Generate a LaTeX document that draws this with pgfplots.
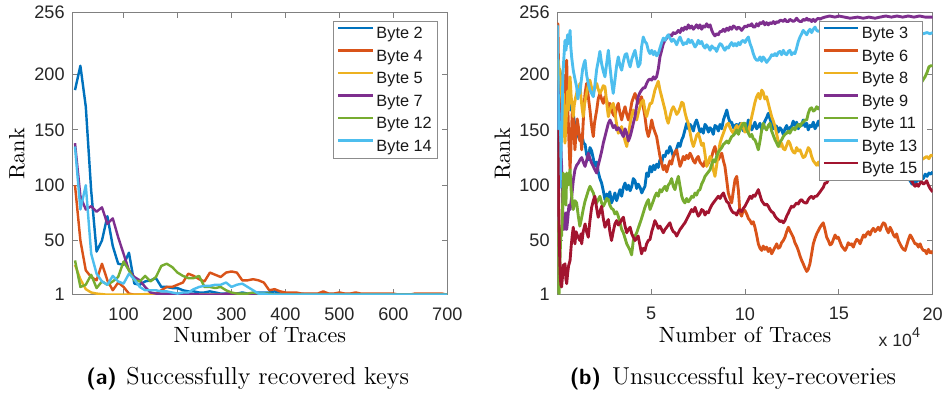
\documentclass[border=0pt]{standalone}
\usepackage{fontspec}
\usepackage{pgfplots}
\pgfplotsset{compat=1.18}
\newfontfamily\arial{Liberation Sans}
\definecolor{c1}{rgb}{0,0.447,0.741}
\definecolor{c2}{rgb}{0.850,0.325,0.098}
\definecolor{c3}{rgb}{0.929,0.694,0.125}
\definecolor{c4}{rgb}{0.494,0.184,0.556}
\definecolor{c5}{rgb}{0.466,0.674,0.188}
\definecolor{c6}{rgb}{0.301,0.745,0.933}
\definecolor{c7}{rgb}{0.635,0.078,0.184}
\pgfplotsset{myax/.style={
  scale only axis, height=127.86pt,
  anchor=south west,
  axis line style={black!50, line width=0.45pt},
  tick style={black!50, line width=0.45pt},
  major tick length=2.6pt,
  tick align=inside, tick pos=both,
  ymin=1, ymax=256, ytick={1,50,100,150,200,256},
  tick label style={font=\arial\fontsize{8.2}{9}\selectfont, text=black!85},
  /pgf/number format/assume math mode=true,
  yticklabel style={inner sep=0pt, xshift=-3.3pt},
  xticklabel style={inner sep=0pt, yshift=-5.6pt},
  label style={font=\fontsize{9.1}{11}\selectfont, text=black!68},
  every axis x label/.style={at={(axis description cs:0.5,-0.1712)}, anchor=base},
  ylabel={Rank}, xlabel={Number of Traces},
  legend style={at={(axis description cs:1,1)}, anchor=north east, xshift=-4.2pt, yshift=-3.9pt,
    draw=black!45, line width=0.45pt, fill=white,
    font=\arial\fontsize{7.4}{8}\selectfont,
    inner xsep=1.5pt, inner ysep=0.3pt, row sep=0pt, column sep=0pt,
    nodes={inner sep=1.1pt, text height=6.2pt, text depth=1.8pt, text=black!90}},
  legend cell align=left,
  legend image code/.code={\draw[#1, line width=1.1pt] (0pt,2.6pt) -- (15.6pt,2.6pt);},
  every axis plot/.append style={line width=1.1pt, mark=none, line join=round},
  scaled x ticks=false,
}}
\begin{document}
\begin{tikzpicture}
\useasboundingbox (0,0) rectangle (428pt,179.54pt);
\begin{axis}[myax, at={(32.78pt,45.93pt)}, width=170.02pt,
  xmin=5, xmax=700, xtick={100,200,300,400,500,600,700},
  every axis y label/.style={at={(axis description cs:-0.1276,0.5)}, rotate=90, anchor=base}]
\addplot[c1] coordinates {(10,186)(20,208)(30,171)(40,95)(50,40)(60,50)(70,72)(80,45)(90,29)(100,28)(110,39)(120,11)(130,10)(140,13)(150,14)(160,16)(170,8)(180,8)(190,7)(200,7)(210,5)(220,4)(230,4)(240,3)(250,3)(260,4)(270,3)(280,2)(290,2)(300,2)(310,2)(320,3)(330,2)(340,2)(350,3)(360,3)(370,3)(380,4)(390,2)(400,2)(420,2)(440,1.5)(460,1.5)(480,1.5)(500,1.5)(520,1.5)(540,1.2)(560,1.2)(580,1.2)(600,1)(620,1)(640,1)(660,1)(680,1)(700,1)};
\addplot[c2] coordinates {(10,100)(20,50)(30,23)(40,17)(50,14)(60,29)(70,14)(80,5)(90,12)(100,8)(110,2)(120,1)(130,1)(140,1)(150,2)(160,2)(170,5)(180,8)(190,8)(200,10)(210,12)(220,20)(230,18)(240,15)(250,13)(260,21)(270,19)(280,17)(290,21)(300,22)(310,21)(320,14)(330,14)(340,15)(350,14)(360,12)(370,5)(380,6)(390,4)(400,3)(410,3)(420,3)(430,2)(440,2)(450,2)(460,2)(470,4)(480,2)(490,2)(500,3)(510,2)(520,2)(530,3)(540,2)(550,2)(560,2)(570,2)(580,2)(590,2)(600,2)(610,1)(620,1)(630,1)(640,2)(650,2)(660,2)(670,2)(680,2)(690,2)(700,1)};
\addplot[c3] coordinates {(10,28)(20,15)(30,6)(40,3)(50,2)(60,1.5)(70,1)(80,1)(100,1)(120,1)(140,1.5)(160,1.5)(180,1.5)(200,1)(250,1)(300,1)(350,1)(400,1)(450,1)(500,1)(550,1)(600,1)(650,1)(700,1)};
\addplot[c4] coordinates {(10,138)(20,90)(30,78)(40,81)(50,76)(60,80)(70,65)(80,70)(90,53)(100,38)(110,23)(120,17)(130,14)(140,8)(150,3)(160,2)(170,2)(180,2)(190,2)(200,2)(210,1.5)(220,1.5)(240,1.2)(260,1)(280,1)(290,2)(300,2)(310,2)(320,1)(340,1)(360,1)(400,1)(450,1)(500,1)(550,1)(600,1)(650,1)(700,1)};
\addplot[c5] coordinates {(10,32)(20,8)(30,10)(40,19)(50,7)(60,13)(70,10)(80,13)(90,17)(100,31)(110,23)(120,14)(130,13)(140,18)(150,13)(160,17)(170,27)(180,29)(190,26)(200,21)(210,18)(220,16)(230,16)(240,18)(250,8)(260,8)(270,7)(280,8)(290,5)(300,3)(310,2)(320,2)(330,2)(340,3)(350,2)(360,2)(370,2)(380,1)(400,1)(450,1)(500,1)(550,1)(600,1)(650,1)(700,1)};
\addplot[c6] coordinates {(10,135)(20,78)(30,100)(40,38)(50,20)(60,13)(70,10)(80,18)(90,13)(100,11)(110,20)(120,15)(130,8)(140,5)(150,5)(160,5)(170,4)(180,4)(190,3)(200,2)(210,3)(220,3)(230,6)(240,8)(250,9)(260,9)(270,10)(280,10)(290,12)(300,8)(310,10)(320,11)(330,8)(340,5)(350,2)(360,2)(370,1)(400,1)(450,1)(500,1)(550,1)(600,1)(650,1)(700,1)};
\legend{Byte 2,Byte 4,Byte 5,Byte 7,Byte 12,Byte 14}
\end{axis}
\begin{axis}[myax, at={(252.67pt,45.93pt)}, width=170.2pt,
  xmin=0, xmax=20, xtick={5,10,15,20},
  every axis plot/.append style={line width=1.3pt},
  every axis y label/.style={at={(axis description cs:-0.126,0.5)}, rotate=90, anchor=base}]
\addplot[c1] coordinates {(0,130)(0.05,175)(0.12,205)(0.2,198)(0.3,188)(0.4,195)(0.5,178)(0.6,182)(0.7,168)(0.8,172)(0.9,158)(1.0,152)(1.1,145)(1.2,141)(1.3,146)(1.4,138)(1.48,137)(1.56,128)(1.65,123)(1.74,134)(1.83,131)(1.92,124)(2.0,117)(2.1,121)(2.18,112)(2.27,106)(2.36,102)(2.45,95)(2.54,87)(2.63,92)(2.72,89)(2.8,94)(2.89,84)(2.98,88)(3.07,93)(3.16,86)(3.25,91)(3.34,96)(3.43,90)(3.52,98)(3.61,102)(3.7,96)(3.79,100)(3.88,95)(3.97,99)(4.05,106)(4.14,104)(4.23,97)(4.31,101)(4.41,98)(4.5,93)(4.58,96)(4.67,99)(4.76,111)(4.85,108)(4.94,117)(5.03,112)(5.12,118)(5.2,114)(5.29,119)(5.38,116)(5.47,123)(5.56,120)(5.65,127)(5.74,126)(5.83,131)(5.91,129)(6.0,135)(6.09,131)(6.18,126)(6.27,129)(6.36,133)(6.45,138)(6.54,135)(6.63,141)(6.71,144)(6.8,150)(6.89,156)(6.98,151)(7.07,155)(7.16,153)(7.25,149)(7.34,156)(7.42,159)(7.51,154)(7.6,148)(7.69,151)(7.78,147)(7.87,155)(7.96,153)(8.05,148)(8.14,152)(8.23,150)(8.31,146)(8.4,154)(8.49,153)(8.58,149)(8.67,155)(8.76,151)(8.85,159)(8.93,163)(9.03,168)(9.12,161)(9.2,157)(9.29,157)(9.38,152)(9.47,154)(9.56,155)(9.65,150)(9.73,156)(9.82,153)(9.91,149)(10.0,155)(10.09,152)(10.18,159)(10.27,155)(10.36,150)(10.44,153)(10.53,157)(10.62,151)(10.71,153)(10.8,156)(10.89,150)(10.97,154)(11.06,158)(11.15,161)(11.24,165)(11.33,160)(11.42,156)(11.51,151)(11.6,154)(11.69,153)(11.77,148)(11.86,152)(11.95,150)(12.04,146)(12.13,151)(12.22,154)(12.31,149)(12.39,152)(12.48,153)(12.57,158)(12.66,154)(12.75,157)(12.84,151)(12.93,155)(13.02,154)(13.1,159)(13.2,153)(13.29,156)(13.37,150)(13.46,154)(13.55,153)(13.64,157)(13.73,151)(13.82,154)(13.91,158)(14.0,153)(14.08,156)(14.5,150)(15,147)(15.5,142)(16,138)(16.5,132)(17,125)(17.5,120)(18,115)(18.5,109)(18.8,104)(18.9,101)(19.0,104)(19.1,102)(19.2,106)(19.3,104)(19.4,108)(19.5,106)(19.6,110)(19.7,108)(19.8,111)(19.9,110)(20,112)};
\addplot[c2] coordinates {(0,210)(0.03,246)(0.08,190)(0.12,140)(0.18,135)(0.25,175)(0.3,200)(0.38,165)(0.45,190)(0.5,213)(0.56,170)(0.62,140)(0.68,114)(0.74,140)(0.8,168)(0.85,160)(0.9,145)(0.94,132)(1.0,148)(1.06,160)(1.12,153)(1.2,140)(1.25,145)(1.3,132)(1.36,150)(1.42,170)(1.48,183)(1.56,192)(1.62,185)(1.68,176)(1.74,168)(1.8,158)(1.86,150)(1.92,144)(1.98,156)(2.04,162)(2.1,168)(2.18,178)(2.27,183)(2.36,178)(2.45,174)(2.54,180)(2.63,177)(2.72,170)(2.8,174)(2.89,168)(2.98,164)(3.07,162)(3.16,170)(3.25,174)(3.34,165)(3.43,159)(3.52,166)(3.61,171)(3.7,164)(3.79,159)(3.88,166)(3.97,175)(4.05,179)(4.14,183)(4.23,178)(4.31,174)(4.41,177)(4.49,180)(4.58,171)(4.67,162)(4.76,150)(4.85,144)(4.94,150)(5.03,159)(5.12,152)(5.2,148)(5.29,144)(5.38,135)(5.47,126)(5.56,120)(5.65,114)(5.74,118)(5.83,112)(5.91,117)(6.0,122)(6.09,119)(6.18,126)(6.27,130)(6.36,132)(6.45,124)(6.54,117)(6.63,121)(6.71,126)(6.8,123)(6.89,127)(6.98,124)(7.07,129)(7.16,126)(7.25,122)(7.34,120)(7.42,124)(7.51,126)(7.6,121)(7.69,119)(7.78,117)(7.87,122)(7.96,118)(8.05,120)(8.14,124)(8.23,126)(8.31,131)(8.4,135)(8.49,128)(8.58,123)(8.67,126)(8.76,129)(8.85,122)(8.93,117)(9.03,104)(9.11,93)(9.2,88)(9.29,84)(9.38,95)(9.47,105)(9.56,108)(9.65,95)(9.73,75)(9.82,72)(9.91,78)(10.0,77)(10.09,74)(10.18,70)(10.27,68)(10.36,65)(10.44,67)(10.53,62)(10.62,55)(10.71,47)(10.8,43)(10.89,41)(10.97,45)(11.06,42)(11.15,44)(11.24,40)(11.33,43)(11.42,38)(11.51,41)(11.6,44)(11.69,47)(11.77,43)(11.86,44)(11.95,48)(12.04,50)(12.13,53)(12.22,58)(12.31,62)(12.39,59)(12.48,56)(12.57,53)(12.66,48)(12.75,45)(12.84,41)(12.93,36)(13.02,32)(13.1,29)(13.2,25)(13.29,22)(13.37,24)(13.46,29)(13.55,38)(13.64,47)(13.73,52)(13.82,56)(13.91,59)(14.0,62)(14.08,64)(14.17,66)(14.26,60)(14.35,53)(14.44,50)(14.53,46)(14.62,47)(14.71,51)(14.8,55)(14.88,52)(14.97,53)(15.06,49)(15.15,45)(15.24,43)(15.33,41)(15.42,44)(15.5,48)(15.59,46)(15.68,47)(15.77,44)(15.86,48)(15.95,51)(16.04,50)(16.13,47)(16.22,51)(16.31,55)(16.39,53)(16.48,56)(16.57,58)(16.66,55)(16.75,59)(16.84,61)(16.93,58)(17.02,60)(17.1,62)(17.19,59)(17.28,63)(17.37,66)(17.46,65)(17.55,60)(17.64,57)(17.73,62)(17.82,59)(17.91,55)(18.0,53)(18.08,56)(18.17,50)(18.26,47)(18.35,44)(18.44,42)(18.53,41)(18.62,46)(18.71,51)(18.8,55)(18.88,53)(18.97,50)(19.06,47)(19.15,47)(19.24,44)(19.33,47)(19.42,43)(19.5,41)(19.59,41)(19.68,38)(19.77,42)(19.86,39)(19.95,40)(20,38)};
\addplot[c3] coordinates {(0,195)(0.05,213)(0.1,205)(0.14,204)(0.2,190)(0.26,175)(0.32,183)(0.37,150)(0.41,138)(0.46,155)(0.5,168)(0.55,185)(0.59,168)(0.64,190)(0.68,198)(0.74,180)(0.8,170)(0.85,162)(0.9,172)(0.96,178)(1.03,183)(1.1,188)(1.15,185)(1.2,192)(1.26,180)(1.32,170)(1.38,162)(1.44,172)(1.5,178)(1.56,183)(1.62,188)(1.68,192)(1.74,195)(1.8,190)(1.86,186)(1.92,183)(1.98,187)(2.04,190)(2.1,192)(2.16,188)(2.22,185)(2.27,183)(2.36,186)(2.45,190)(2.54,189)(2.6,180)(2.66,170)(2.72,162)(2.8,168)(2.89,172)(2.98,174)(3.07,166)(3.16,155)(3.25,147)(3.34,150)(3.43,153)(3.52,146)(3.61,140)(3.7,135)(3.79,145)(3.88,156)(3.97,163)(4.05,168)(4.14,164)(4.23,159)(4.31,165)(4.41,171)(4.49,175)(4.58,177)(4.67,168)(4.76,162)(4.85,168)(4.94,174)(5.03,174)(5.12,180)(5.2,186)(5.29,190)(5.38,194)(5.47,186)(5.56,180)(5.65,174)(5.74,168)(5.83,160)(5.91,156)(6.0,162)(6.09,168)(6.18,171)(6.27,168)(6.36,164)(6.45,166)(6.54,170)(6.63,175)(6.71,174)(6.8,166)(6.89,160)(6.98,156)(7.07,148)(7.16,140)(7.25,135)(7.34,140)(7.42,145)(7.51,147)(7.6,142)(7.69,136)(7.78,138)(7.87,128)(7.96,117)(8.05,121)(8.14,126)(8.23,123)(8.31,114)(8.4,108)(8.49,118)(8.58,129)(8.67,138)(8.76,143)(8.85,147)(8.93,151)(9.03,155)(9.12,156)(9.2,152)(9.29,149)(9.38,147)(9.47,151)(9.56,154)(9.65,150)(9.73,153)(9.82,156)(9.91,152)(10.0,148)(10.09,151)(10.18,147)(10.27,155)(10.36,162)(10.44,168)(10.53,175)(10.62,180)(10.71,183)(10.8,178)(10.89,186)(10.97,184)(11.06,178)(11.15,180)(11.24,174)(11.33,168)(11.42,162)(11.51,158)(11.6,153)(11.69,146)(11.77,140)(11.86,135)(11.95,138)(12.04,133)(12.13,132)(12.22,136)(12.31,140)(12.39,138)(12.48,133)(12.57,130)(12.66,129)(12.75,134)(12.84,131)(12.93,132)(13.02,128)(13.1,125)(13.2,126)(13.29,130)(13.37,134)(13.46,132)(13.55,126)(13.64,122)(13.73,120)(13.82,118)(13.91,121)(14.0,117)(14.08,120)(14.5,122)(15,125)(15.5,121)(16,118)(16.5,123)(17,127)(17.5,122)(18,118)(18.5,121)(19,119)(19.3,122)(19.5,124)(19.68,126)(19.8,124)(19.9,127)(20,127)};
\addplot[c4] coordinates {(0,150)(0.05,185)(0.12,160)(0.18,140)(0.23,117)(0.28,85)(0.32,60)(0.36,72)(0.41,60)(0.46,75)(0.5,60)(0.56,70)(0.62,82)(0.68,78)(0.77,90)(0.85,104)(0.94,114)(1.03,118)(1.12,120)(1.21,123)(1.3,125)(1.38,121)(1.48,117)(1.56,122)(1.65,129)(1.74,124)(1.83,120)(1.92,117)(2.0,114)(2.1,111)(2.18,118)(2.27,124)(2.38,132)(2.45,138)(2.54,144)(2.63,150)(2.72,156)(2.81,159)(2.89,156)(2.98,152)(3.07,154)(3.16,150)(3.25,152)(3.34,150)(3.43,147)(3.52,144)(3.61,151)(3.7,147)(3.79,140)(3.88,144)(3.97,150)(4.05,156)(4.14,162)(4.23,172)(4.31,180)(4.41,184)(4.49,186)(4.58,188)(4.67,188)(4.76,192)(4.85,195)(4.94,196)(5.03,195)(5.12,198)(5.2,196)(5.29,198)(5.38,205)(5.47,216)(5.56,222)(5.65,228)(5.74,231)(5.83,233)(5.91,235)(6.0,236)(6.09,235)(6.18,238)(6.27,237)(6.36,238)(6.45,240)(6.54,238)(6.63,242)(6.71,240)(6.8,243)(6.89,241)(6.98,245)(7.07,242)(7.16,244)(7.25,241)(7.34,243)(7.42,245)(7.51,242)(7.6,245)(7.69,241)(7.78,244)(7.87,243)(7.96,246)(8.05,243)(8.14,245)(8.23,240)(8.31,237)(8.4,235)(8.49,237)(8.58,236)(8.67,239)(8.76,239)(8.85,241)(8.93,239)(9.03,242)(9.12,240)(9.2,243)(9.29,241)(9.38,244)(9.47,243)(9.56,241)(9.65,243)(9.73,242)(9.82,240)(9.91,242)(10.0,244)(10.09,243)(10.18,245)(10.27,244)(10.36,246)(10.44,243)(10.53,243)(10.62,246)(10.71,244)(10.8,247)(10.89,246)(10.97,248)(11.06,245)(11.15,247)(11.24,245)(11.33,247)(11.42,246)(11.51,248)(11.6,246)(11.69,248)(11.77,247)(11.86,249)(11.95,249)(12.04,248)(12.13,250)(12.22,248)(12.31,248)(12.39,250)(12.48,249)(12.57,248)(12.66,249)(12.75,251)(12.84,249)(12.93,248)(13.02,248)(13.1,250)(13.2,249)(13.29,251)(13.37,249)(13.46,250)(13.55,248)(13.64,250)(13.73,248)(13.82,250)(13.91,251)(14.0,250)(14.08,251)(14.26,252)(14.5,253)(14.8,252)(15.0,253)(15.3,252)(15.6,251)(16.0,252)(16.3,251)(16.6,252)(16.93,251)(17.2,252)(17.5,253)(17.8,252)(18.1,253)(18.4,252)(18.7,253)(19.0,252)(19.3,253)(19.6,252)(20,252)};
\addplot[c5] coordinates {(0,68)(0.03,20)(0.05,5)(0.1,2)(0.14,30)(0.19,60)(0.23,54)(0.28,78)(0.32,111)(0.36,95)(0.41,102)(0.46,82)(0.5,111)(0.56,100)(0.62,108)(0.68,114)(0.74,95)(0.8,85)(0.85,78)(0.94,86)(1.03,84)(1.12,72)(1.2,63)(1.29,70)(1.38,78)(1.47,85)(1.56,90)(1.65,95)(1.74,99)(1.83,96)(1.92,93)(2.0,88)(2.1,84)(2.18,87)(2.27,90)(2.36,84)(2.45,81)(2.54,84)(2.63,88)(2.72,87)(2.8,82)(2.89,79)(2.98,78)(3.07,74)(3.16,76)(3.25,72)(3.34,66)(3.43,60)(3.52,57)(3.61,52)(3.7,47)(3.79,44)(3.88,41)(3.96,37)(4.05,50)(4.14,54)(4.23,57)(4.31,61)(4.41,66)(4.49,70)(4.58,75)(4.67,80)(4.76,84)(4.85,87)(4.94,78)(5.03,82)(5.12,86)(5.2,90)(5.29,93)(5.38,90)(5.47,96)(5.56,94)(5.65,97)(5.74,99)(5.83,95)(5.91,100)(6.0,102)(6.09,106)(6.18,99)(6.27,96)(6.36,103)(6.45,108)(6.54,99)(6.63,90)(6.71,86)(6.8,84)(6.89,88)(6.98,85)(7.07,87)(7.16,90)(7.25,89)(7.34,93)(7.42,91)(7.51,95)(7.6,96)(7.69,101)(7.78,104)(7.87,108)(7.96,110)(8.05,112)(8.14,114)(8.23,119)(8.31,123)(8.4,121)(8.49,126)(8.58,130)(8.67,132)(8.76,134)(8.85,137)(8.93,138)(9.03,140)(9.12,138)(9.2,141)(9.29,144)(9.38,145)(9.47,147)(9.56,150)(9.65,146)(9.73,150)(9.82,153)(9.91,156)(10.0,156)(10.09,150)(10.18,147)(10.27,144)(10.36,146)(10.44,142)(10.53,141)(10.62,137)(10.71,132)(10.8,140)(10.89,150)(10.97,156)(11.06,152)(11.15,150)(11.24,154)(11.33,156)(11.42,149)(11.51,145)(11.6,141)(11.69,138)(11.77,135)(11.86,139)(11.95,141)(12.04,144)(12.13,146)(12.22,147)(12.31,149)(12.39,147)(12.48,150)(12.57,152)(12.66,150)(12.75,153)(12.84,155)(12.93,153)(13.02,156)(13.1,157)(13.2,159)(13.29,159)(13.37,165)(13.46,169)(13.55,170)(13.64,167)(13.73,168)(13.82,171)(13.91,169)(14.0,171)(14.08,172)(14.5,174)(15,176)(15.5,178)(16,180)(16.5,183)(17,185)(17.5,186)(18,188)(18.5,190)(19,192)(19.4,193)(19.59,198)(19.7,202)(19.8,207)(19.9,208)(20,208)};
\addplot[c6] coordinates {(0,245)(0.04,200)(0.08,150)(0.12,110)(0.15,98)(0.2,130)(0.25,160)(0.3,200)(0.35,215)(0.41,231)(0.46,222)(0.5,228)(0.55,236)(0.6,228)(0.64,233)(0.68,240)(0.72,225)(0.77,215)(0.85,204)(0.94,196)(1.03,189)(1.1,178)(1.15,186)(1.2,183)(1.28,195)(1.35,205)(1.42,210)(1.48,213)(1.56,200)(1.65,192)(1.74,186)(1.83,183)(1.92,180)(2.0,190)(2.1,205)(2.18,212)(2.27,221)(2.36,210)(2.45,203)(2.54,198)(2.63,210)(2.72,222)(2.8,208)(2.89,194)(2.98,183)(3.07,195)(3.16,208)(3.25,216)(3.34,208)(3.43,204)(3.52,212)(3.61,218)(3.7,219)(3.79,212)(3.88,207)(3.97,214)(4.05,218)(4.14,222)(4.23,214)(4.31,207)(4.41,210)(4.49,225)(4.58,234)(4.67,230)(4.76,228)(4.85,222)(4.94,219)(5.03,222)(5.12,218)(5.2,221)(5.29,217)(5.38,219)(5.47,224)(5.56,229)(5.65,233)(5.74,231)(5.83,234)(5.91,236)(6.0,233)(6.09,230)(6.18,232)(6.27,230)(6.36,227)(6.45,231)(6.54,234)(6.63,230)(6.71,227)(6.8,229)(6.89,228)(6.98,232)(7.07,229)(7.16,231)(7.25,228)(7.34,225)(7.42,227)(7.51,231)(7.6,228)(7.69,230)(7.78,226)(7.87,224)(7.96,227)(8.05,225)(8.14,222)(8.23,226)(8.31,224)(8.4,224)(8.49,221)(8.58,225)(8.67,228)(8.76,227)(8.85,224)(8.93,222)(9.03,225)(9.12,224)(9.2,227)(9.29,229)(9.38,226)(9.47,228)(9.56,226)(9.65,229)(9.73,227)(9.82,230)(9.91,231)(10.0,229)(10.09,232)(10.18,234)(10.27,228)(10.36,224)(10.44,219)(10.53,215)(10.62,213)(10.71,213)(10.8,216)(10.89,212)(10.97,216)(11.06,214)(11.15,211)(11.24,213)(11.33,215)(11.42,218)(11.51,217)(11.6,219)(11.69,217)(11.77,220)(11.86,221)(11.95,218)(12.04,222)(12.13,219)(12.22,218)(12.31,221)(12.39,222)(12.48,218)(12.57,220)(12.66,219)(12.75,224)(12.84,230)(12.93,234)(13.02,237)(13.1,240)(13.2,238)(13.29,236)(13.37,239)(13.46,241)(13.55,238)(13.64,241)(13.73,243)(13.82,240)(13.91,239)(14.0,240)(14.08,238)(14.5,236)(15,233)(15.5,235)(16,232)(16.5,234)(17,236)(17.5,233)(18,235)(18.5,237)(19,236)(19.5,237)(19.7,238)(19.85,237)(20,238)};
\addplot[c7] coordinates {(0,150)(0.03,138)(0.07,90)(0.11,47)(0.15,20)(0.19,10)(0.23,8)(0.28,18)(0.32,28)(0.36,22)(0.41,29)(0.46,15)(0.5,11)(0.55,20)(0.6,27)(0.68,32)(0.74,45)(0.8,55)(0.85,62)(0.9,52)(0.94,47)(1.0,58)(1.06,55)(1.12,53)(1.2,50)(1.26,56)(1.3,47)(1.38,58)(1.44,62)(1.48,65)(1.56,58)(1.65,53)(1.74,68)(1.83,80)(1.92,86)(2.0,90)(2.09,80)(2.18,71)(2.27,76)(2.36,81)(2.45,70)(2.54,62)(2.63,66)(2.72,69)(2.8,58)(2.89,50)(2.98,58)(3.07,65)(3.16,68)(3.25,64)(3.34,66)(3.43,69)(3.52,71)(3.61,63)(3.7,57)(3.79,60)(3.88,62)(3.97,56)(4.05,53)(4.14,50)(4.23,52)(4.31,54)(4.41,45)(4.49,38)(4.58,43)(4.67,41)(4.76,47)(4.85,50)(4.94,51)(5.03,58)(5.12,63)(5.2,68)(5.29,65)(5.38,61)(5.47,63)(5.56,60)(5.65,57)(5.74,60)(5.83,62)(5.91,64)(6.0,66)(6.09,61)(6.18,58)(6.27,57)(6.36,54)(6.45,57)(6.54,60)(6.63,62)(6.71,64)(6.8,66)(6.89,69)(6.98,72)(7.07,75)(7.16,78)(7.25,76)(7.34,80)(7.42,76)(7.51,72)(7.6,74)(7.69,78)(7.78,77)(7.87,73)(7.96,76)(8.05,75)(8.14,79)(8.23,82)(8.31,84)(8.4,86)(8.49,88)(8.58,90)(8.67,88)(8.76,91)(8.85,93)(8.93,89)(9.03,85)(9.12,84)(9.2,80)(9.29,77)(9.38,75)(9.47,75)(9.56,73)(9.65,77)(9.73,78)(9.82,76)(9.91,79)(10.0,81)(10.09,84)(10.18,87)(10.27,90)(10.36,88)(10.44,91)(10.53,90)(10.62,93)(10.71,96)(10.8,91)(10.89,86)(10.97,84)(11.06,82)(11.15,83)(11.24,81)(11.33,78)(11.42,76)(11.51,75)(11.6,72)(11.69,70)(11.77,69)(11.86,67)(11.95,68)(12.04,66)(12.13,68)(12.22,72)(12.31,75)(12.39,78)(12.48,81)(12.57,80)(12.66,82)(12.75,84)(12.84,83)(12.93,86)(13.02,87)(13.1,85)(13.2,84)(13.29,84)(13.37,87)(13.46,89)(13.55,90)(13.64,88)(13.73,90)(13.82,90)(13.91,92)(14.0,94)(14.08,96)(14.17,98)(14.26,102)(14.35,102)(14.44,105)(14.53,108)(15,112)(15.5,115)(16,118)(16.5,116)(17,119)(17.5,117)(18,113)(18.5,108)(18.8,105)(18.88,104)(18.97,101)(19.06,99)(19.15,101)(19.24,99)(19.33,102)(19.42,103)(19.5,101)(19.59,102)(19.68,104)(19.77,100)(19.86,97)(19.95,95)(20,94)};
\legend{Byte 3,Byte 6,Byte 8,Byte 9,Byte 11,Byte 13,Byte 15}
\end{axis}
\node[anchor=base west, inner sep=0pt, font=\arial\fontsize{8}{9}\selectfont, text=black!85] at (398.2pt,22.4pt) {x 10\raisebox{4.2pt}{\fontsize{6.5}{7}\selectfont 4}};
\node[anchor=base west, inner sep=0pt, font=\sffamily\bfseries\fontsize{10}{12}\selectfont] at (38.99pt,4.99pt) {(a)};
\node[anchor=base west, inner sep=0pt, font=\fontsize{11.09}{13}\selectfont] at (57.13pt,4.99pt) {Successfully recovered keys};
\node[anchor=base west, inner sep=0pt, font=\sffamily\bfseries\fontsize{10}{12}\selectfont] at (258.12pt,4.99pt) {(b)};
\node[anchor=base west, inner sep=0pt, font=\fontsize{11.09}{13}\selectfont] at (277.34pt,4.99pt) {Unsuccessful key-recoveries};
\end{tikzpicture}
\end{document}
